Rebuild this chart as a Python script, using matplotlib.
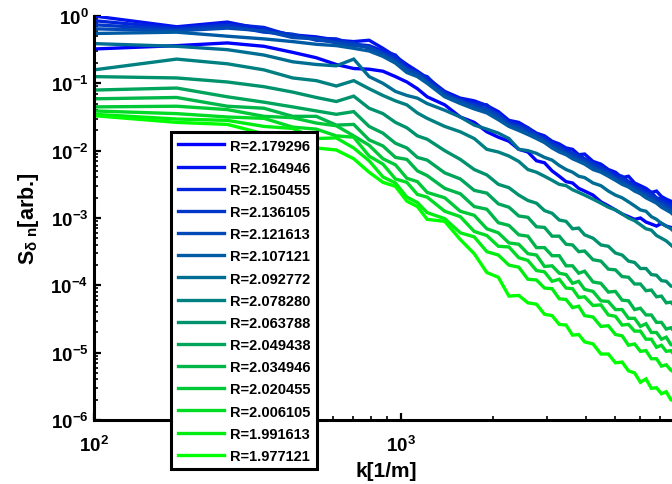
import numpy as np
import matplotlib
matplotlib.use("Agg")
import matplotlib.pyplot as plt
from matplotlib.ticker import FixedLocator, LogLocator, FuncFormatter, NullFormatter

plt.rcParams.update({
    "font.family": "Liberation Sans",
    "font.weight": "bold",
    "mathtext.fontset": "custom",
    "mathtext.rm": "Liberation Sans:bold",
    "mathtext.bf": "Liberation Sans:bold",
    "mathtext.it": "Liberation Sans:bold",
    "mathtext.sf": "Liberation Sans:bold",
    "mathtext.default": "rm",
})

# ----------------------------
# Data
# ----------------------------
k = [100, 186, 272, 358, 444, 530, 616, 702, 788, 874, 960, 1046, 1132, 1218,
     1390, 1562, 1734, 1906, 2078, 2250, 2422, 2594, 2766, 2938, 3110, 3282,
     3454, 3626, 3798, 3970, 4228, 4486, 4744, 5002, 5260, 5518, 5776, 6034,
     6292, 6550, 6808, 7066, 7324, 7582, 7840]

radii = ["2.179296", "2.164946", "2.150455", "2.136105", "2.121613",
         "2.107121", "2.092772", "2.078280", "2.063788", "2.049438",
         "2.034946", "2.020455", "2.006105", "1.991613", "1.977121"]

x_ticks = [1e2, 1e3]
y_ticks = [1e-6, 1e-5, 1e-4, 1e-3, 1e-2, 1e-1, 1e0]

# log10 of S_dn for each R, same order as radii
lg01 = [-0.49, -0.44, -0.40, -0.45, -0.54, -0.62, -0.72, -0.78, -0.79, -0.82, -0.90, -0.98, -1.08, -1.20,
        -1.32, -1.50, -1.58, -1.72, -1.80, -1.86, -1.98, -2.02, -2.15, -2.18, -2.30, -2.38, -2.46, -2.48,
        -2.56, -2.60, -2.66, -2.76, -2.82, -2.88, -2.94, -2.98, -3.02, -3.00, -3.06, -3.09, -3.12, -3.08,
        -3.12, -3.14, -3.16]
lg02 = [0.00, -0.16, -0.09, -0.20, -0.28, -0.31, -0.36, -0.38, -0.36, -0.48, -0.60, -0.72, -0.82, -0.92,
        -1.12, -1.22, -1.26, -1.33, -1.42, -1.55, -1.58, -1.66, -1.74, -1.78, -1.86, -1.90, -1.96, -1.98,
        -2.06, -2.05, -2.16, -2.20, -2.28, -2.32, -2.40, -2.38, -2.48, -2.52, -2.56, -2.62, -2.60, -2.68,
        -2.72, -2.75, -2.80]
lg03 = [-0.07, -0.18, -0.12, -0.17, -0.30, -0.33, -0.34, -0.42, -0.44, -0.52, -0.58, -0.76, -0.86, -0.90,
        -1.16, -1.24, -1.30, -1.32, -1.48, -1.57, -1.62, -1.66, -1.78, -1.80, -1.88, -1.95, -1.98, -2.04,
        -2.06, -2.12, -2.18, -2.24, -2.30, -2.36, -2.38, -2.46, -2.50, -2.56, -2.60, -2.62, -2.70, -2.72,
        -2.76, -2.80, -2.84]
lg04 = [-0.13, -0.20, -0.14, -0.24, -0.27, -0.36, -0.38, -0.40, -0.48, -0.55, -0.64, -0.78, -0.84, -0.96,
        -1.14, -1.28, -1.32, -1.38, -1.46, -1.60, -1.64, -1.70, -1.76, -1.84, -1.90, -1.94, -2.02, -2.04,
        -2.10, -2.14, -2.20, -2.26, -2.32, -2.40, -2.42, -2.48, -2.54, -2.58, -2.64, -2.66, -2.72, -2.76,
        -2.80, -2.84, -2.88]
lg05 = [-0.19, -0.22, -0.18, -0.22, -0.32, -0.34, -0.40, -0.44, -0.46, -0.57, -0.67, -0.80, -0.86, -0.98,
        -1.18, -1.26, -1.35, -1.40, -1.50, -1.62, -1.66, -1.74, -1.78, -1.86, -1.94, -1.98, -2.04, -2.08,
        -2.14, -2.16, -2.24, -2.30, -2.34, -2.42, -2.46, -2.52, -2.56, -2.62, -2.66, -2.70, -2.76, -2.80,
        -2.84, -2.88, -2.92]
lg06 = [-0.26, -0.24, -0.30, -0.34, -0.38, -0.42, -0.44, -0.48, -0.52, -0.60, -0.70, -0.84, -0.90, -1.00,
        -1.20, -1.30, -1.38, -1.44, -1.54, -1.64, -1.70, -1.76, -1.82, -1.88, -1.96, -2.02, -2.06, -2.12,
        -2.16, -2.20, -2.28, -2.32, -2.38, -2.44, -2.50, -2.54, -2.60, -2.64, -2.70, -2.74, -2.78, -2.84,
        -2.88, -2.92, -2.98]
lg07 = [-0.41, -0.45, -0.50, -0.58, -0.68, -0.72, -0.74, -0.64, -0.90, -1.00, -1.12, -1.18, -1.22, -1.30,
        -1.40, -1.50, -1.62, -1.68, -1.74, -1.82, -1.98, -2.00, -2.04, -2.10, -2.14, -2.22, -2.28, -2.32,
        -2.38, -2.40, -2.48, -2.52, -2.60, -2.66, -2.70, -2.76, -2.82, -2.88, -2.90, -2.98, -3.02, -3.08,
        -3.12, -3.16, -3.22]
lg08 = [-0.80, -0.64, -0.71, -0.80, -0.92, -0.96, -1.04, -0.96, -1.08, -1.18, -1.26, -1.32, -1.44, -1.52,
        -1.64, -1.72, -1.82, -1.98, -2.02, -2.08, -2.16, -2.28, -2.32, -2.38, -2.44, -2.50, -2.52, -2.58,
        -2.62, -2.66, -2.72, -2.78, -2.84, -2.88, -2.94, -3.00, -3.04, -3.10, -3.16, -3.18, -3.26, -3.30,
        -3.34, -3.40, -3.46]
lg09 = [-0.90, -0.92, -0.98, -1.05, -1.13, -1.21, -1.27, -1.19, -1.37, -1.45, -1.58, -1.66, -1.78, -1.83,
        -2.00, -2.13, -2.28, -2.36, -2.50, -2.55, -2.66, -2.74, -2.78, -2.89, -2.93, -3.03, -3.05, -3.16,
        -3.15, -3.25, -3.30, -3.40, -3.42, -3.52, -3.55, -3.64, -3.66, -3.75, -3.75, -3.84, -3.85, -3.93,
        -3.94, -4.01, -4.03]
lg10 = [-1.10, -1.07, -1.20, -1.28, -1.35, -1.41, -1.46, -1.42, -1.64, -1.74, -1.89, -1.96, -2.10, -2.14,
        -2.33, -2.42, -2.59, -2.63, -2.79, -2.84, -2.97, -2.99, -3.13, -3.14, -3.27, -3.27, -3.39, -3.40,
        -3.50, -3.49, -3.62, -3.64, -3.76, -3.77, -3.87, -3.88, -3.98, -3.98, -4.08, -4.07, -4.17, -4.16,
        -4.26, -4.25, -4.32]
lg11 = [-1.23, -1.21, -1.34, -1.37, -1.49, -1.49, -1.62, -1.61, -1.84, -1.93, -2.10, -2.13, -2.30, -2.37,
        -2.56, -2.64, -2.83, -2.87, -3.07, -3.11, -3.25, -3.27, -3.44, -3.44, -3.56, -3.56, -3.71, -3.71,
        -3.82, -3.79, -3.95, -3.97, -4.10, -4.09, -4.22, -4.23, -4.36, -4.34, -4.44, -4.44, -4.55, -4.55,
        -4.65, -4.63, -4.70]
lg12 = [-1.35, -1.34, -1.39, -1.49, -1.51, -1.59, -1.63, -1.78, -1.92, -2.12, -2.21, -2.41, -2.46, -2.62,
        -2.70, -2.90, -2.96, -3.16, -3.22, -3.37, -3.39, -3.53, -3.55, -3.72, -3.71, -3.82, -3.84, -3.97,
        -3.94, -4.06, -4.09, -4.23, -4.24, -4.36, -4.36, -4.49, -4.49, -4.61, -4.57, -4.70, -4.70, -4.80,
        -4.77, -4.88, -4.90]
lg13 = [-1.41, -1.45, -1.50, -1.52, -1.65, -1.68, -1.78, -1.80, -2.08, -2.20, -2.42, -2.47, -2.65, -2.69,
        -2.90, -2.98, -3.20, -3.26, -3.42, -3.43, -3.59, -3.63, -3.78, -3.80, -3.94, -3.91, -4.04, -4.05,
        -4.18, -4.17, -4.30, -4.29, -4.44, -4.46, -4.59, -4.58, -4.68, -4.68, -4.80, -4.80, -4.92, -4.89,
        -4.98, -4.97, -5.05]
lg14 = [-1.46, -1.53, -1.55, -1.64, -1.67, -1.82, -1.81, -1.96, -2.15, -2.39, -2.48, -2.69, -2.77, -2.92,
        -3.01, -3.22, -3.28, -3.50, -3.55, -3.70, -3.73, -3.91, -3.92, -4.04, -4.05, -4.20, -4.21, -4.33,
        -4.31, -4.45, -4.47, -4.61, -4.60, -4.73, -4.75, -4.89, -4.87, -4.98, -4.97, -5.09, -5.09, -5.20,
        -5.18, -5.26, -5.30]
lg15 = [-1.48, -1.58, -1.61, -1.75, -1.80, -1.96, -1.99, -2.12, -2.32, -2.47, -2.53, -2.75, -2.83, -3.02,
        -3.05, -3.32, -3.53, -3.81, -3.88, -4.16, -4.15, -4.26, -4.28, -4.43, -4.45, -4.58, -4.59, -4.74,
        -4.73, -4.84, -4.87, -5.02, -5.02, -5.15, -5.14, -5.27, -5.30, -5.44, -5.39, -5.53, -5.52, -5.61,
        -5.58, -5.70, -5.72]

series = [lg01, lg02, lg03, lg04, lg05, lg06, lg07, lg08,
          lg09, lg10, lg11, lg12, lg13, lg14, lg15]

# ----------------------------
# Figure
# ----------------------------
fig = plt.figure(figsize=(6.72, 4.85), dpi=100)
ax = fig.add_axes([94 / 672, 64 / 485, 584 / 672, 404 / 485])

n = len(series)
handles = []
for i, lg in enumerate(series):
    t = i / (n - 1)
    color = (0.0, t, 1.0 - t)
    line, = ax.plot(k, 10.0 ** np.array(lg), color=color, lw=2.4,
                    label=f"R={radii[i]}", solid_joinstyle="miter")
    handles.append(line)

ax.set_xscale("log")
ax.set_yscale("log")
ax.set_xlim(100, 8000)
ax.set_ylim(1e-6, 1)

for side in ["top", "right"]:
    ax.spines[side].set_visible(False)
for side in ["left", "bottom"]:
    ax.spines[side].set_linewidth(2.2)

ax.xaxis.set_major_locator(FixedLocator(x_ticks))
ax.yaxis.set_major_locator(FixedLocator(y_ticks))
ax.xaxis.set_minor_locator(LogLocator(base=10, subs=np.arange(2, 10), numticks=20))
ax.yaxis.set_minor_locator(LogLocator(base=10, subs=np.arange(2, 10), numticks=20))
ax.xaxis.set_minor_formatter(NullFormatter())
ax.yaxis.set_minor_formatter(NullFormatter())
fmt = FuncFormatter(lambda v, pos: r"$10^{%d}$" % int(round(np.log10(v))))
ax.xaxis.set_major_formatter(fmt)
ax.yaxis.set_major_formatter(fmt)

ax.tick_params(which="major", direction="in", length=5, width=1.6, labelsize=13.5)
ax.tick_params(axis="y", which="major", pad=4)
ax.tick_params(axis="x", which="major", pad=11)
ax.tick_params(which="minor", direction="in", length=3, width=1.2)

ax.set_xlabel("k[1/m]", fontsize=15, fontweight="bold", labelpad=4)
ax.set_ylabel(r"S$_{\delta\ n}$[arb.]", fontsize=15.5, fontweight="bold", labelpad=7)

leg = ax.legend(handles=handles, loc="upper left",
                bbox_to_anchor=(171 / 672, 1 - 133 / 485),
                bbox_transform=fig.transFigure, borderaxespad=0,
                fontsize=10.5, frameon=True, fancybox=False, framealpha=1,
                edgecolor="black", handlelength=3.2, handletextpad=0.4,
                labelspacing=0.56, borderpad=0.45)
leg.get_frame().set_linewidth(2.2)
for txt in leg.get_texts():
    txt.set_fontweight("bold")

fig.savefig("out.png", dpi=100)
